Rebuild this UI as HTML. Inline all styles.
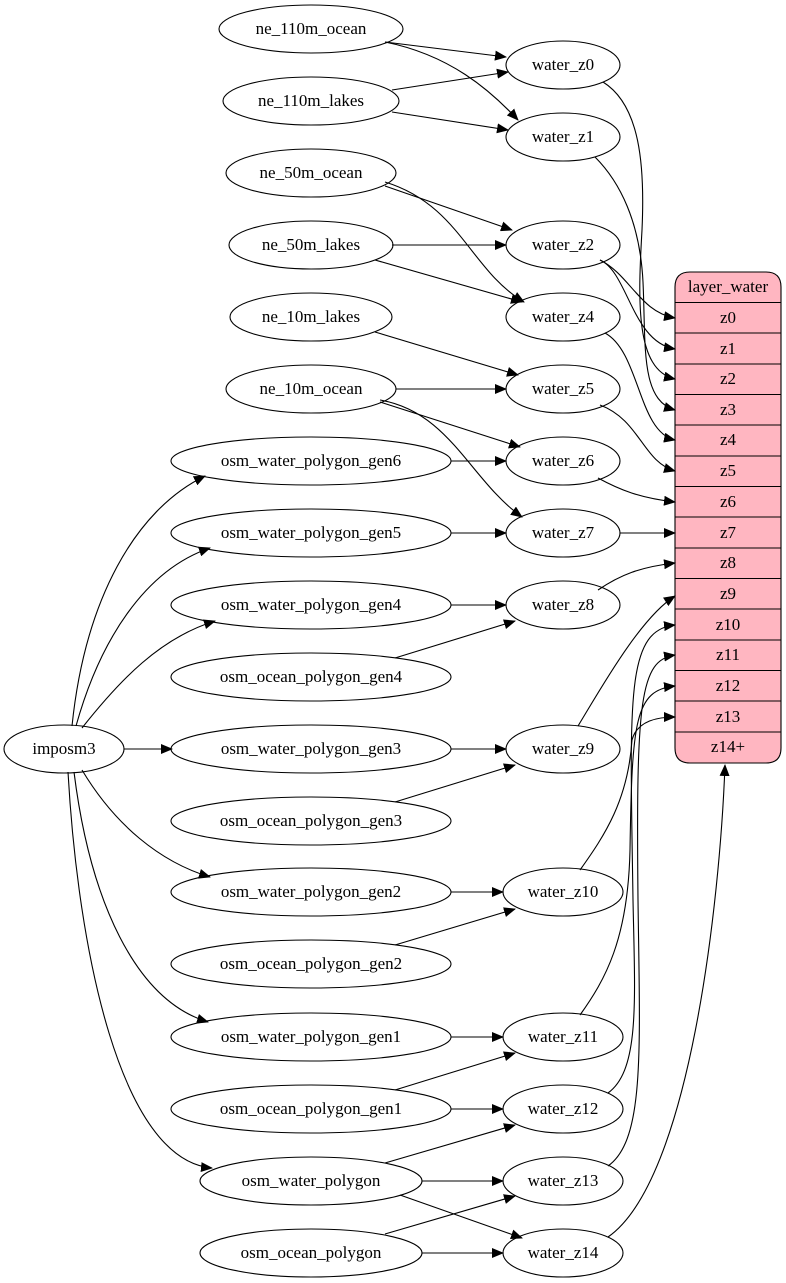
<!DOCTYPE html>
<html><head><meta charset="utf-8"><style>
html,body{margin:0;padding:0;background:#fff;}
svg{display:block;}
text{font-family:"Liberation Serif",serif;font-size:17px;fill:#000;}
</style></head><body>
<svg width="786" height="1283" viewBox="0 0 786 1283" xmlns="http://www.w3.org/2000/svg">
<defs>
<marker id="a" markerWidth="12" markerHeight="10" refX="11" refY="5" orient="auto" markerUnits="userSpaceOnUse">
<path d="M0,0 L12,5 L0,10 z" fill="#000"/>
</marker>
</defs>
<g fill="none" stroke="#000" stroke-width="1.1">
<ellipse cx="311" cy="29" rx="92" ry="24"/>
<ellipse cx="311" cy="101" rx="88" ry="24"/>
<ellipse cx="311" cy="173" rx="85" ry="24"/>
<ellipse cx="311" cy="245" rx="82" ry="24"/>
<ellipse cx="311" cy="317" rx="81" ry="24"/>
<ellipse cx="311" cy="389" rx="85" ry="24"/>
<ellipse cx="311" cy="461" rx="140" ry="24"/>
<ellipse cx="311" cy="533" rx="140" ry="24"/>
<ellipse cx="311" cy="605" rx="140" ry="24"/>
<ellipse cx="311" cy="677" rx="140" ry="24"/>
<ellipse cx="311" cy="749" rx="140" ry="24"/>
<ellipse cx="311" cy="821" rx="140" ry="24"/>
<ellipse cx="311" cy="892" rx="140" ry="24"/>
<ellipse cx="311" cy="964" rx="140" ry="24"/>
<ellipse cx="311" cy="1037" rx="140" ry="24"/>
<ellipse cx="311" cy="1109" rx="140" ry="24"/>
<ellipse cx="311" cy="1181" rx="111" ry="24"/>
<ellipse cx="311" cy="1253" rx="111" ry="24"/>
<ellipse cx="64" cy="749" rx="60" ry="24"/>
<ellipse cx="563" cy="65" rx="57" ry="24"/>
<ellipse cx="563" cy="137" rx="57" ry="24"/>
<ellipse cx="563" cy="245" rx="57" ry="24"/>
<ellipse cx="563" cy="317" rx="57" ry="24"/>
<ellipse cx="563" cy="389" rx="57" ry="24"/>
<ellipse cx="563" cy="461" rx="57" ry="24"/>
<ellipse cx="563" cy="533" rx="57" ry="24"/>
<ellipse cx="563" cy="605" rx="57" ry="24"/>
<ellipse cx="563" cy="749" rx="57" ry="24"/>
<ellipse cx="563" cy="892" rx="60" ry="24"/>
<ellipse cx="563" cy="1037" rx="60" ry="24"/>
<ellipse cx="563" cy="1109" rx="60" ry="24"/>
<ellipse cx="563" cy="1181" rx="60" ry="24"/>
<ellipse cx="563" cy="1253" rx="60" ry="24"/>
</g>
<path d="M690,272 H766 Q781,272 781,287 V748 Q781,763 766,763 H690 Q675,763 675,748 V287 Q675,272 690,272 z" fill="#ffb6c1" stroke="#000" stroke-width="1.1"/>
<g stroke="#000" stroke-width="1">
<line x1="675" y1="302.5" x2="781" y2="302.5"/>
<line x1="675" y1="333" x2="781" y2="333"/>
<line x1="675" y1="364" x2="781" y2="364"/>
<line x1="675" y1="394.5" x2="781" y2="394.5"/>
<line x1="675" y1="425" x2="781" y2="425"/>
<line x1="675" y1="456" x2="781" y2="456"/>
<line x1="675" y1="486.5" x2="781" y2="486.5"/>
<line x1="675" y1="517" x2="781" y2="517"/>
<line x1="675" y1="548" x2="781" y2="548"/>
<line x1="675" y1="578.5" x2="781" y2="578.5"/>
<line x1="675" y1="609" x2="781" y2="609"/>
<line x1="675" y1="640" x2="781" y2="640"/>
<line x1="675" y1="670.5" x2="781" y2="670.5"/>
<line x1="675" y1="701" x2="781" y2="701"/>
<line x1="675" y1="732" x2="781" y2="732"/>
</g>
<g fill="none" stroke="#000" stroke-width="1.1" marker-end="url(#a)">
<path d="M385,42 L506,57"/>
<path d="M385,42 C450,55 490,90 518,120"/>
<path d="M392,90 L508,72"/>
<path d="M392,112 L508,130"/>
<path d="M385,186 L512,230"/>
<path d="M385,182 C460,205 470,270 524,302"/>
<path d="M392,245 L506,245"/>
<path d="M375,260 L522,302"/>
<path d="M375,332 L518,375"/>
<path d="M396,389 L506,389"/>
<path d="M380,402 L520,447"/>
<path d="M380,400 C450,412 470,480 522,517"/>
<path d="M451,461 L506,461"/>
<path d="M451,533 L506,533"/>
<path d="M451,605 L506,605"/>
<path d="M395,658 L515,621"/>
<path d="M451,749 L506,749"/>
<path d="M395,802 L515,765"/>
<path d="M451,892 L503,892"/>
<path d="M395,945 L515,909"/>
<path d="M451,1037 L503,1037"/>
<path d="M395,1090 L515,1053"/>
<path d="M451,1109 L503,1109"/>
<path d="M385,1163 L515,1125"/>
<path d="M422,1181 L503,1181"/>
<path d="M400,1195 L522,1238"/>
<path d="M385,1234 L515,1196"/>
<path d="M422,1253 L503,1253"/>
<path d="M72,726 C85,600 135,510 205,476"/>
<path d="M76,726 C100,640 145,570 210,548"/>
<path d="M82,728 C120,680 160,638 215,621"/>
<path d="M124,749 L172,749"/>
<path d="M82,770 C115,825 160,862 210,877"/>
<path d="M74,772 C90,900 135,1000 208,1022"/>
<path d="M68,772 C78,950 120,1160 212,1168"/>
<path d="M603,82 C640,105 645,165 642,230 C638,300 635,370 675,379"/>
<path d="M595,157 C620,182 640,222 643,282 C646,345 640,400 675,410"/>
<path d="M600,260 C630,275 640,312 675,318"/>
<path d="M600,260 C628,272 632,342 675,349"/>
<path d="M605,333 C640,352 638,432 675,440"/>
<path d="M600,405 C640,420 643,462 675,471"/>
<path d="M598,478 C620,490 640,498 675,502"/>
<path d="M620,533 L675,533"/>
<path d="M598,590 C620,575 640,567 675,563"/>
<path d="M578,726 C600,690 640,618 675,596"/>
<path d="M580,870 C605,835 628,800 632,740 C636,725 650,717 675,717"/>
<path d="M580,1015 C605,980 628,940 630,850 C632,720 635,690 675,686"/>
<path d="M608,1093 C640,1070 635,1000 633,900 C630,700 625,630 675,625"/>
<path d="M608,1166 C645,1140 640,1050 638,900 C636,700 640,660 675,655"/>
<path d="M608,1237 C690,1180 720,900 725,765"/>
</g>
<g text-anchor="middle">
<text x="311" y="34">ne_110m_ocean</text>
<text x="311" y="106">ne_110m_lakes</text>
<text x="311" y="178">ne_50m_ocean</text>
<text x="311" y="250">ne_50m_lakes</text>
<text x="311" y="322">ne_10m_lakes</text>
<text x="311" y="394">ne_10m_ocean</text>
<text x="311" y="466">osm_water_polygon_gen6</text>
<text x="311" y="538">osm_water_polygon_gen5</text>
<text x="311" y="610">osm_water_polygon_gen4</text>
<text x="311" y="682">osm_ocean_polygon_gen4</text>
<text x="311" y="754">osm_water_polygon_gen3</text>
<text x="311" y="826">osm_ocean_polygon_gen3</text>
<text x="311" y="897">osm_water_polygon_gen2</text>
<text x="311" y="969">osm_ocean_polygon_gen2</text>
<text x="311" y="1042">osm_water_polygon_gen1</text>
<text x="311" y="1114">osm_ocean_polygon_gen1</text>
<text x="311" y="1186">osm_water_polygon</text>
<text x="311" y="1258">osm_ocean_polygon</text>
<text x="64" y="754">imposm3</text>
<text x="563" y="70">water_z0</text>
<text x="563" y="142">water_z1</text>
<text x="563" y="250">water_z2</text>
<text x="563" y="322">water_z4</text>
<text x="563" y="394">water_z5</text>
<text x="563" y="466">water_z6</text>
<text x="563" y="538">water_z7</text>
<text x="563" y="610">water_z8</text>
<text x="563" y="754">water_z9</text>
<text x="563" y="897">water_z10</text>
<text x="563" y="1042">water_z11</text>
<text x="563" y="1114">water_z12</text>
<text x="563" y="1186">water_z13</text>
<text x="563" y="1258">water_z14</text>
<text x="728" y="292">layer_water</text>
<text x="728" y="323">z0</text>
<text x="728" y="354">z1</text>
<text x="728" y="384">z2</text>
<text x="728" y="415">z3</text>
<text x="728" y="445">z4</text>
<text x="728" y="476">z5</text>
<text x="728" y="507">z6</text>
<text x="728" y="538">z7</text>
<text x="728" y="568">z8</text>
<text x="728" y="599">z9</text>
<text x="728" y="630">z10</text>
<text x="728" y="660">z11</text>
<text x="728" y="691">z12</text>
<text x="728" y="722">z13</text>
<text x="728" y="752">z14+</text>
</g>
</svg>
</body></html>
